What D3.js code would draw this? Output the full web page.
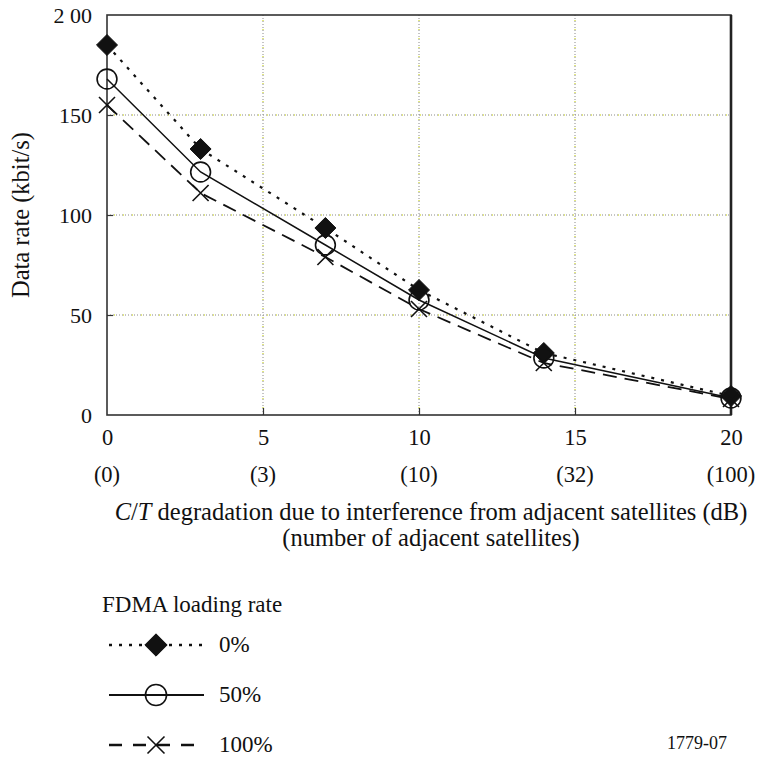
<!DOCTYPE html>
<html>
<head>
<meta charset="utf-8">
<script src="https://cdn.jsdelivr.net/npm/d3@7"></script>
<style>
  body { margin: 0; background: #fff; }
  svg, svg text { font-family: 'Liberation Serif', 'DejaVu Serif', serif !important; }
  svg text { fill: #111; }
</style>
</head>
<body>
<div class="graph"></div>
<script>
(function(){
  // values
  let xValues = [0, 3, 7, 10, 14, 20];
  let load0   = [185, 133, 93.5, 62.5, 31, 9.5];
  let load50  = [168, 121.5, 85, 57.5, 28.5, 8.5];
  let load100 = [155, 111, 79, 53, 26, 8];
  let seriesNames = ["0%", "50%", "100%"];
  let xTicks = [0, 5, 10, 15, 20];
  let xSubLabels = ["(0)", "(3)", "(10)", "(32)", "(100)"];
  let yTicks = [0, 50, 100, 150, 200];

  let WIDTH = 760, HEIGHT = 758;
  let PAD = {left: 107, right: 29, top: 15, bottom: 343};
  let FONT = "'Liberation Serif', 'DejaVu Serif', serif";

  let svg = d3.select("div.graph").append("svg")
      .attr("width", WIDTH)
      .attr("height", HEIGHT)
      .attr("font-family", FONT);

  let x = d3.scaleLinear().domain([0, 20]).range([PAD.left, WIDTH - PAD.right]);
  let y = d3.scaleLinear().domain([0, 200]).range([HEIGHT - PAD.bottom, PAD.top]);

  // gridlines: grey dots with some yellow-green ones mixed in
  let grid = svg.append("g").classed("grid", true);
  [["#8a8a8a", "1,2", 0], ["#c8d400", "1,8", 2]].forEach(function([col, dash, off]){
    grid.selectAll(null).data(xTicks.slice(1, -1)).enter().append("line")
      .attr("x1", d => x(d)).attr("x2", d => x(d))
      .attr("y1", y(0)).attr("y2", y(200))
      .attr("stroke", col).attr("stroke-width", 1)
      .attr("stroke-dasharray", dash).attr("stroke-dashoffset", off);
    grid.selectAll(null).data(yTicks.slice(1, -1)).enter().append("line")
      .attr("y1", d => y(d)).attr("y2", d => y(d))
      .attr("x1", x(0)).attr("x2", x(20))
      .attr("stroke", col).attr("stroke-width", 1)
      .attr("stroke-dasharray", dash).attr("stroke-dashoffset", off);
  });

  // frame
  svg.append("rect")
    .attr("x", x(0)).attr("y", y(200))
    .attr("width", x(20) - x(0)).attr("height", y(0) - y(200))
    .attr("fill", "none").attr("stroke", "#333").attr("stroke-width", 1.6);
  svg.append("line")
    .attr("x1", x(20)).attr("x2", x(20)).attr("y1", y(200)).attr("y2", y(0))
    .attr("stroke", "#222").attr("stroke-width", 2.6);

  // axes
  let xAxis = svg.append("g")
    .attr("transform", "translate(0," + y(0) + ")")
    .call(d3.axisBottom(x).tickValues(xTicks).tickSize(-7).tickPadding(14))
    .attr("font-family", FONT);
  xAxis.select(".domain").remove();
  xAxis.selectAll(".tick line").attr("stroke", "#333").attr("stroke-width", 1.2)
    .filter(d => d == 0 || d == 20).remove();
  xAxis.selectAll(".tick text").attr("font-size", 22.5).attr("fill", "#111");

  svg.append("g").selectAll("text")
    .data(xTicks).enter().append("text")
    .attr("x", d => x(d)).attr("y", 482)
    .attr("text-anchor", "middle").attr("font-size", 22.5)
    .text((d, i) => xSubLabels[i]);

  let yAxis = svg.append("g")
    .attr("transform", "translate(" + x(0) + ",0)")
    .call(d3.axisLeft(y).tickValues(yTicks).tickSize(-6).tickPadding(15)
          .tickFormat(d => d == 200 ? "2 00" : d))
    .attr("font-family", FONT);
  yAxis.select(".domain").remove();
  yAxis.selectAll(".tick line").attr("stroke", "#333").attr("stroke-width", 1.2)
    .filter(d => d == 0 || d == 200).remove();
  yAxis.selectAll(".tick text").attr("font-size", 22).attr("fill", "#111");

  // axis titles
  svg.append("text")
    .attr("transform", "translate(29," + ((y(0) + y(200)) / 2) + ") rotate(-90)")
    .attr("text-anchor", "middle").attr("font-size", 24.5)
    .text("Data rate (kbit/s)");

  let xt = svg.append("text")
    .attr("x", 431).attr("y", 520)
    .attr("text-anchor", "middle").attr("font-size", 24.5);
  xt.append("tspan").attr("font-style", "italic").text("C");
  xt.append("tspan").text("/");
  xt.append("tspan").attr("font-style", "italic").text("T");
  xt.append("tspan").text(" degradation due to interference from adjacent satellites (dB)");
  svg.append("text")
    .attr("x", 431).attr("y", 546)
    .attr("text-anchor", "middle").attr("font-size", 24.5)
    .text("(number of adjacent satellites)");

  // series
  let series = [
    {name: seriesNames[0], values: load0, dash: "3,7", width: 2.2, marker: "diamond"},
    {name: seriesNames[1], values: load50, dash: null, width: 1.5, marker: "circle"},
    {name: seriesNames[2], values: load100, dash: "14,8", width: 1.8, marker: "cross"}
  ];

  function drawMarker(g, kind, s){
    if(kind == "diamond"){
      g.append("path").attr("d", d3.symbol(d3.symbolDiamond2, s * s * 1.1)())
        .attr("fill", "#111").attr("stroke", "#111").attr("stroke-width", 1);
    } else if(kind == "circle"){
      g.append("circle").attr("r", s * 0.62)
        .attr("fill", "none").attr("stroke", "#111").attr("stroke-width", 1.6);
    } else {
      let h = s * 0.5;
      g.append("path").attr("d", "M" + (-h) + "," + (-h) + "L" + h + "," + h + "M" + (-h) + "," + h + "L" + h + "," + (-h))
        .attr("stroke", "#111").attr("stroke-width", 1.6).attr("fill", "none");
    }
  }

  let line = d3.line().x((d, i) => x(xValues[i])).y(d => y(d));

  series.forEach(function(sr){
    svg.append("path")
      .datum(sr.values)
      .attr("d", line)
      .attr("fill", "none").attr("stroke", "#111")
      .attr("stroke-width", sr.width)
      .attr("stroke-dasharray", sr.dash);
  });
  series.forEach(function(sr){
    svg.append("g").selectAll("g")
      .data(sr.values).enter().append("g")
      .attr("transform", (d, i) => "translate(" + x(xValues[i]) + "," + y(d) + ")")
      .each(function(){ drawMarker(d3.select(this), sr.marker, 16); });
  });

  // legend
  let legend = svg.append("g").classed("legend", true);
  legend.append("text")
    .attr("x", 102).attr("y", 612).attr("font-size", 23)
    .text("FDMA loading rate");
  let rows = legend.selectAll("g.row")
    .data(series).enter().append("g")
    .classed("row", true)
    .attr("transform", (d, i) => "translate(0," + [645, 695, 745][i] + ")");
  rows.append("line")
    .attr("x1", 109).attr("x2", 204).attr("y1", 0).attr("y2", 0)
    .attr("stroke", "#111")
    .attr("stroke-width", d => d.width + 0.5)
    .attr("stroke-dasharray", d => d.dash == null ? null : (d.dash == "3,7" ? "3,7" : "13,11"));
  rows.append("g")
    .attr("transform", "translate(156,0)")
    .each(function(d){ drawMarker(d3.select(this), d.marker, 17); });
  rows.append("text")
    .attr("x", 219).attr("y", 7).attr("font-size", 23)
    .text(d => d.name);

  svg.append("text")
    .attr("x", 727).attr("y", 749).attr("text-anchor", "end")
    .attr("font-size", 18)
    .text("1779-07");
})();
</script>
</body>
</html>
